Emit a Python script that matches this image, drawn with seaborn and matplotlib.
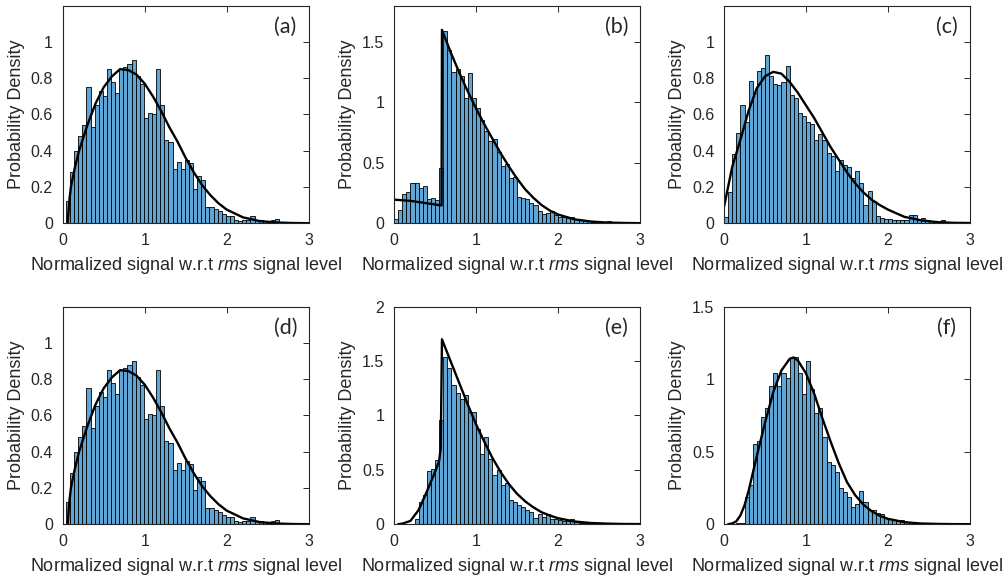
import numpy as np
import pandas as pd
import matplotlib
matplotlib.use("Agg")
import matplotlib.pyplot as plt
from matplotlib.ticker import FuncFormatter
import seaborn as sns

# --- DATA ---
BIN_W = 0.05

# panel (a); panel (d) shows the same histogram and fit
A_START = 0.04
A_HEIGHTS = [0.12, 0.28, 0.40, 0.48, 0.54, 0.75, 0.53, 0.65, 0.73, 0.70,
             0.85, 0.78, 0.72, 0.85, 0.86, 0.88, 0.90, 0.81, 0.77, 0.58,
             0.61, 0.60, 0.85, 0.65, 0.46, 0.45, 0.30, 0.34, 0.30, 0.35,
             0.33, 0.19, 0.26, 0.24, 0.09, 0.09, 0.08, 0.07, 0.05, 0.04,
             0.04, 0.02, 0.01, 0.015, 0.02, 0.04, 0.02, 0.015, 0.01, 0.01,
             0.015, 0.025, 0.005, 0.003]
A_CURVE_X = [0.06, 0.08, 0.10, 0.15, 0.2, 0.3, 0.4, 0.5, 0.6, 0.7, 0.8, 0.9, 1.0, 1.1,
             1.2, 1.3, 1.4, 1.5, 1.6, 1.7, 1.8, 1.9, 2.0, 2.2, 2.4, 2.6, 2.8, 3.0]
A_CURVE_Y = [0.0, 0.12, 0.20, 0.31, 0.40, 0.54, 0.66, 0.75, 0.81, 0.85, 0.845, 0.82, 0.77, 0.70,
             0.62, 0.53, 0.45, 0.36, 0.28, 0.21, 0.155, 0.11, 0.075, 0.032, 0.012, 0.004, 0.001, 0.0]

# panel (b)
B_START = 0.0
B_HEIGHTS = [0.035, 0.11, 0.24, 0.26, 0.33, 0.335, 0.29, 0.31, 0.20, 0.21,
             0.19, 0.46, 1.59, 1.43, 1.25, 1.28, 1.22, 1.04, 1.24, 1.04,
             0.95, 0.85, 0.76, 0.68, 0.70, 0.59, 0.47, 0.49, 0.37, 0.38,
             0.22, 0.21, 0.20, 0.17, 0.15, 0.10, 0.08, 0.085, 0.10, 0.07,
             0.055, 0.05, 0.045, 0.055, 0.035, 0.025, 0.03, 0.015, 0.012, 0.01,
             0.008, 0.006, 0.02, 0.005, 0.004, 0.003, 0.002, 0.002, 0.002, 0.001]
B_CURVE_X = [0.0, 0.1, 0.2, 0.3, 0.4, 0.5, 0.58, 0.585, 0.7, 0.8, 0.9, 1.0, 1.1, 1.2,
             1.3, 1.4, 1.5, 1.6, 1.7, 1.8, 1.9, 2.0, 2.2, 2.4, 2.6, 2.8, 3.0]
B_CURVE_Y = [0.195, 0.19, 0.185, 0.175, 0.165, 0.155, 0.147, 1.60, 1.40, 1.24, 1.09, 0.95, 0.82, 0.70,
             0.58, 0.47, 0.37, 0.28, 0.21, 0.15, 0.105, 0.072, 0.032, 0.014, 0.005, 0.002, 0.0]

# panel (c)
C_START = 0.0
C_HEIGHTS = [0.033, 0.17, 0.38, 0.50, 0.65, 0.56, 0.785, 0.72, 0.84, 0.855,
             0.93, 0.81, 0.77, 0.76, 0.78, 0.865, 0.71, 0.69, 0.61, 0.59,
             0.56, 0.55, 0.46, 0.49, 0.46, 0.385, 0.37, 0.29, 0.35, 0.32,
             0.31, 0.25, 0.29, 0.22, 0.10, 0.18, 0.125, 0.04, 0.03, 0.025,
             0.025, 0.015, 0.02, 0.02, 0.015, 0.045, 0.045, 0.015, 0.03, 0.01,
             0.01, 0.005, 0.005, 0.02, 0.005, 0.005, 0.005, 0.003, 0.003, 0.003]
C_CURVE_X = [0.0, 0.05, 0.1, 0.2, 0.3, 0.4, 0.5, 0.6, 0.7, 0.8, 0.9, 1.0, 1.1, 1.2,
             1.3, 1.4, 1.5, 1.6, 1.7, 1.8, 1.9, 2.0, 2.2, 2.4, 2.6, 2.8, 3.0]
C_CURVE_Y = [0.09, 0.20, 0.31, 0.46, 0.62, 0.745, 0.81, 0.835, 0.825, 0.78, 0.72, 0.65, 0.58, 0.50,
             0.42, 0.35, 0.28, 0.22, 0.17, 0.13, 0.10, 0.075, 0.035, 0.016, 0.006, 0.002, 0.001]

# panel (d) = panel (a)
D_START = A_START
D_HEIGHTS = list(A_HEIGHTS)
D_CURVE_X = list(A_CURVE_X)
D_CURVE_Y = list(A_CURVE_Y)

# panel (e)
E_START = 0.25
E_HEIGHTS = [0.05, 0.20, 0.27, 0.49, 0.51,
             0.59, 0.96, 1.54, 1.44, 1.28, 1.21, 1.15, 1.19, 1.03, 1.03,
             0.88, 0.65, 0.80, 0.60, 0.45, 0.50, 0.36, 0.38, 0.22, 0.20,
             0.18, 0.16, 0.13, 0.11, 0.06, 0.09, 0.07, 0.09, 0.05, 0.045,
             0.04, 0.03, 0.03, 0.045, 0.02, 0.015, 0.012, 0.01, 0.008, 0.005,
             0.004, 0.003, 0.003, 0.002, 0.002, 0.002, 0.001, 0.001, 0.001, 0.001]
E_CURVE_X = [0.05, 0.1, 0.2, 0.3, 0.4, 0.5, 0.55, 0.57, 0.585, 0.7, 0.8, 0.9, 1.0, 1.1,
             1.2, 1.3, 1.4, 1.5, 1.6, 1.7, 1.8, 1.9, 2.0, 2.2, 2.4, 2.6, 2.8, 3.0]
E_CURVE_Y = [0.0, 0.005, 0.03, 0.13, 0.30, 0.48, 0.58, 0.70, 1.70, 1.48, 1.29, 1.10, 0.92, 0.76,
             0.61, 0.48, 0.37, 0.28, 0.21, 0.155, 0.11, 0.08, 0.055, 0.025, 0.011, 0.005, 0.002, 0.001]

# panel (f)
F_START = 0.15
F_HEIGHTS = [0.005, 0.01, 0.19, 0.27, 0.55, 0.575, 0.74,
             0.80, 0.95, 1.045, 0.95, 1.04, 1.01, 1.155, 1.155, 1.045, 0.90,
             1.125, 0.93, 0.77, 0.80, 0.60, 0.43, 0.41, 0.36, 0.25, 0.22,
             0.19, 0.12, 0.14, 0.23, 0.15, 0.10, 0.10, 0.075, 0.07, 0.045,
             0.035, 0.03, 0.025, 0.03, 0.015, 0.012, 0.01, 0.008, 0.006, 0.004,
             0.004, 0.003, 0.002, 0.002, 0.003, 0.002, 0.001, 0.001, 0.001]
F_CURVE_X = [0.05, 0.1, 0.15, 0.2, 0.25, 0.3, 0.4, 0.5, 0.6, 0.7, 0.8, 0.85, 0.9, 1.0,
             1.1, 1.2, 1.3, 1.4, 1.5, 1.6, 1.7, 1.8, 1.9, 2.0, 2.2, 2.4, 2.6, 2.8, 3.0]
F_CURVE_Y = [0.0, 0.005, 0.02, 0.06, 0.13, 0.23, 0.47, 0.70, 0.91, 1.06, 1.14, 1.15, 1.13, 1.04,
             0.90, 0.73, 0.57, 0.42, 0.29, 0.20, 0.135, 0.09, 0.058, 0.037, 0.014, 0.005, 0.002, 0.0005, 0.0]

TAGS = ["(a)", "(b)", "(c)", "(d)", "(e)", "(f)"]
Y_MAX = [1.2, 1.8, 1.2, 1.2, 2.0, 1.5]
Y_TICK_TOP = [1.0, 1.5, 1.0, 1.0, 2.0, 1.5]
Y_STEP = [0.2, 0.5, 0.2, 0.2, 0.5, 0.5]
X_LABEL = r"Normalized signal w.r.t $\mathit{rms}$ signal level"
Y_LABEL = "Probability Density"

# --- STYLE ---
sns.set_theme(style="white")
plt.rcParams["font.family"] = ["Liberation Sans", "DejaVu Sans"]
plt.rcParams["mathtext.fontset"] = "custom"
plt.rcParams["mathtext.it"] = "Liberation Sans:italic"
plt.rcParams["mathtext.rm"] = "Liberation Sans"

BAR_COLOR = "#5fa6d6"
FRAME = "#262626"

panels = [
    (A_START, A_HEIGHTS, A_CURVE_X, A_CURVE_Y),
    (B_START, B_HEIGHTS, B_CURVE_X, B_CURVE_Y),
    (C_START, C_HEIGHTS, C_CURVE_X, C_CURVE_Y),
    (D_START, D_HEIGHTS, D_CURVE_X, D_CURVE_Y),
    (E_START, E_HEIGHTS, E_CURVE_X, E_CURVE_Y),
    (F_START, F_HEIGHTS, F_CURVE_X, F_CURVE_Y),
]

fig = plt.figure(figsize=(10.08, 5.8), dpi=100)
lefts = [62.7, 394, 724]
tops = [5.7, 306.7]
w_px, h_px = 246, 217.5

for i, (start, heights, cx, cy) in enumerate(panels):
    r, c = divmod(i, 3)
    ax = fig.add_axes([lefts[c] / 1008, 1 - (tops[r] + h_px) / 580, w_px / 1008, h_px / 580])

    n = len(heights)
    edges = start + BIN_W * np.arange(n + 1)
    hist_df = pd.DataFrame({"x": edges[:-1] + BIN_W / 2, "w": heights})
    sns.histplot(data=hist_df, x="x", weights="w", binwidth=BIN_W,
                 binrange=(start, start + n * BIN_W), stat="count",
                 color=BAR_COLOR, alpha=1, edgecolor="black", linewidth=0.6, ax=ax)
    curve_df = pd.DataFrame({"x": cx, "y": cy})
    sns.lineplot(data=curve_df, x="x", y="y", color="black", linewidth=1.7,
                 estimator=None, sort=False, ax=ax)

    ax.set_xlim(0, 3)
    ax.set_ylim(0, Y_MAX[i])
    ax.set_xticks([0, 1, 2, 3])
    ax.set_yticks(np.arange(0, Y_TICK_TOP[i] + 1e-6, Y_STEP[i]))
    ax.yaxis.set_major_formatter(FuncFormatter(lambda v, p: f"{v:g}"))
    ax.tick_params(direction="in", length=4, width=0.7, color=FRAME, top=True, right=True,
                   labelsize=11.5, pad=7)
    for s in ax.spines.values():
        s.set_color(FRAME)
        s.set_linewidth(0.8)
    ax.set_xlabel(X_LABEL, fontsize=13, labelpad=5)
    ax.set_ylabel(Y_LABEL, fontsize=13, labelpad=4)
    ax.text(0.905, 0.905, TAGS[i], transform=ax.transAxes, ha="center", va="center",
            fontsize=15.5, family=["Lato", "DejaVu Sans"])

fig.savefig("out.png", dpi=100)
